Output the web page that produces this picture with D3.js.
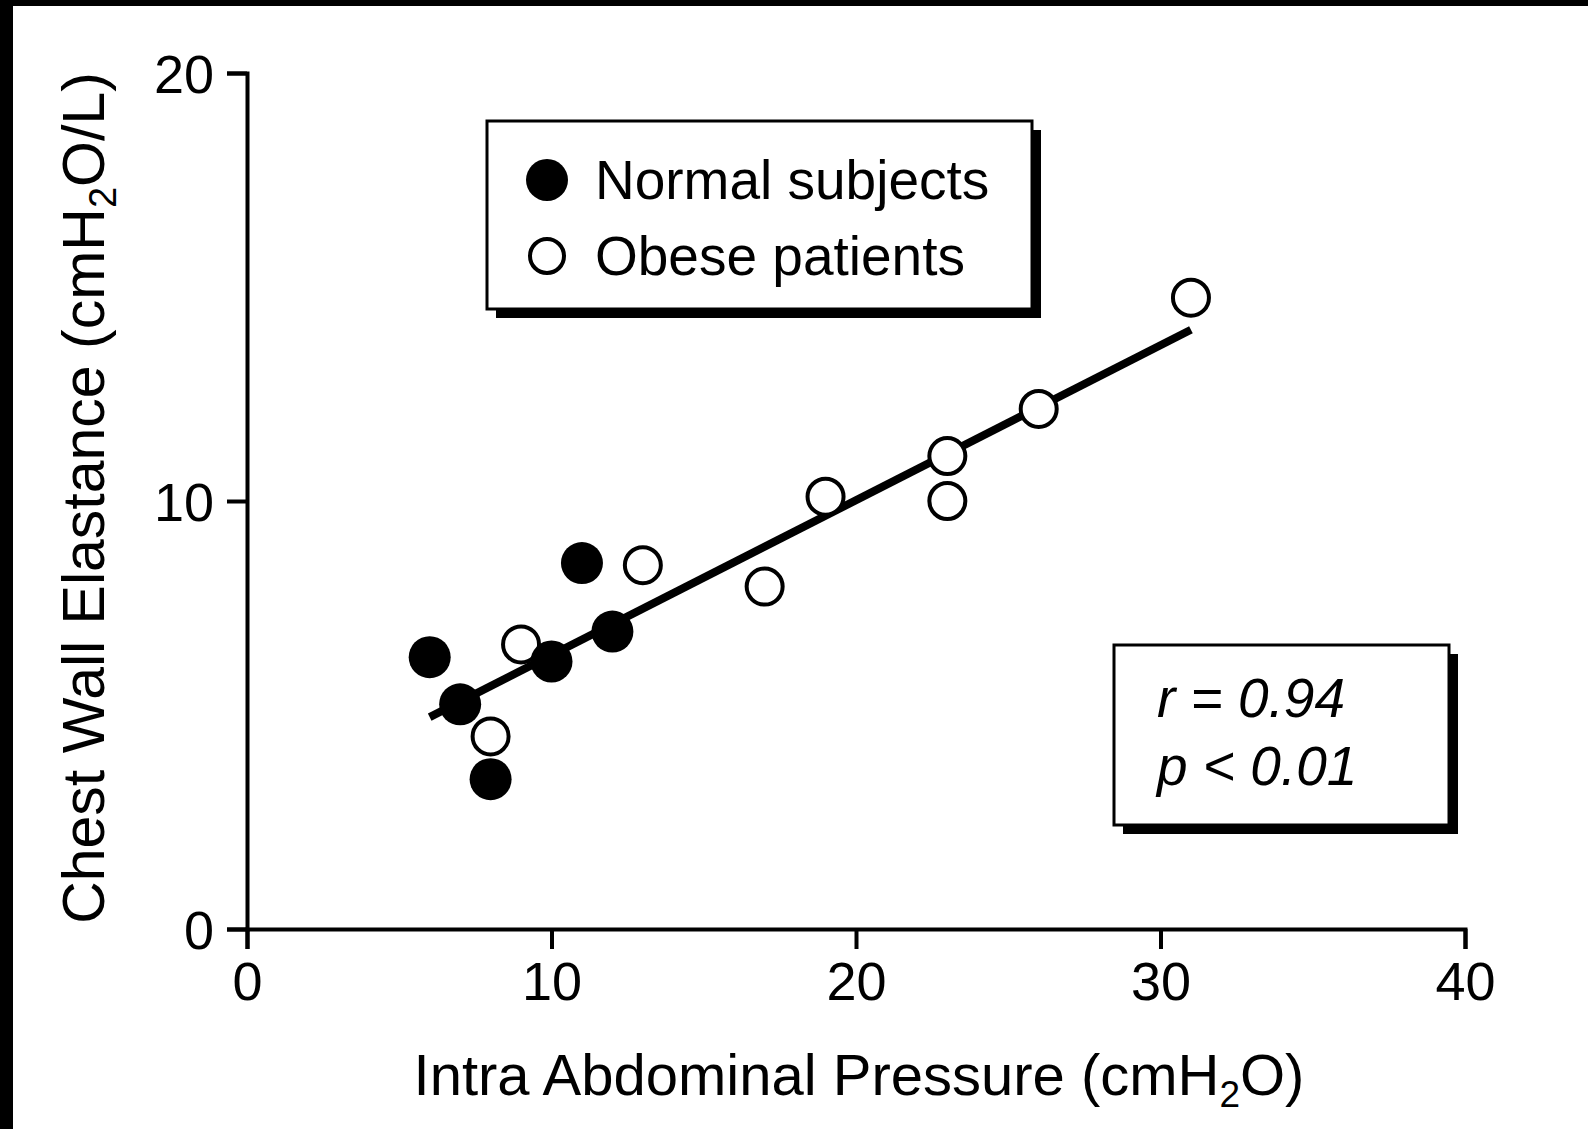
<!DOCTYPE html>
<html>
<head>
<meta charset="utf-8">
<script src="https://cdn.jsdelivr.net/npm/d3@7"></script>
<style>
	body { margin: 0; background: #fff; }
	svg { display: block; font-family: "Liberation Sans", Arial, sans-serif; }
</style>
</head>
<body>
<svg id="chart"></svg>
<script>
const width = 1588;
const height = 1129;

// data
const normalX = [6, 7, 8, 10, 11, 12];
const normalY = [6.35, 5.25, 3.5, 6.25, 8.55, 6.95];
const obeseX = [8, 9, 13, 17, 19, 23, 23, 26, 31];
const obeseY = [4.5, 6.65, 8.5, 8.0, 10.1, 11.05, 10.0, 12.15, 14.75];
const fitX = [6, 31];
const fitY = [4.95, 14.0];
const xTicks = [0, 10, 20, 30, 40];
const yTicks = [0, 10, 20];
const legendLabels = ['Normal subjects', 'Obese patients'];
const statLines = ['r = 0.94', 'p < 0.01'];

const svg = d3.select('#chart')
	.attr('width', width)
	.attr('height', height);

// white page with black scan edges
svg.append('rect').attr('width', width).attr('height', height).attr('fill', '#fff');
svg.append('rect').attr('width', 13).attr('height', height).attr('fill', '#000');
svg.append('rect').attr('width', width).attr('height', 6).attr('fill', '#000');

const x = d3.scaleLinear().domain([0, 40]).range([247, 1465]);
const y = d3.scaleLinear().domain([0, 20]).range([929, 73]);

///////// axes

const xAxis = svg.append('g')
	.attr('transform', `translate(0,${y(0)})`)
	.call(d3.axisBottom(x).tickValues(xTicks).tickSize(20).tickSizeOuter(20).tickPadding(13));
const yAxis = svg.append('g')
	.attr('transform', `translate(${x(0)},0)`)
	.call(d3.axisLeft(y).tickValues(yTicks).tickSize(20).tickSizeOuter(20).tickPadding(13));

for (let ax of [xAxis, yAxis]) {
	ax.select('.domain').attr('stroke', '#000').attr('stroke-width', 4);
	ax.selectAll('.tick line').attr('stroke', '#000').attr('stroke-width', 4);
	ax.selectAll('.tick text')
		.attr('fill', '#000')
		.attr('font-size', 54)
		.attr('font-family', '"Liberation Sans", Arial, sans-serif');
}
yAxis.selectAll('.tick text').attr('dy', '0.36em');

// axis titles, with subscript 2
const xTitle = svg.append('text')
	.attr('x', 859)
	.attr('y', 1095)
	.attr('text-anchor', 'middle')
	.attr('font-size', 58);
xTitle.append('tspan').text('Intra Abdominal Pressure (cmH');
xTitle.append('tspan').attr('font-size', 37).attr('dy', 12).text('2');
xTitle.append('tspan').attr('dy', -12).text('O)');

const yTitle = svg.append('text')
	.attr('transform', 'translate(104,498) rotate(-90)')
	.attr('text-anchor', 'middle')
	.attr('font-size', 59);
yTitle.append('tspan').text('Chest Wall Elastance (cmH');
yTitle.append('tspan').attr('font-size', 38).attr('dy', 12).text('2');
yTitle.append('tspan').attr('dy', -12).text('O/L)');

///////// fit line + points

svg.append('line')
	.attr('x1', x(fitX[0])).attr('y1', y(fitY[0]))
	.attr('x2', x(fitX[1])).attr('y2', y(fitY[1]))
	.attr('stroke', '#000')
	.attr('stroke-width', 8);

svg.append('g')
	.selectAll('circle')
	.data(d3.zip(obeseX, obeseY))
	.join('circle')
	.attr('cx', d => x(d[0]))
	.attr('cy', d => y(d[1]))
	.attr('r', 18)
	.attr('fill', '#fff')
	.attr('stroke', '#000')
	.attr('stroke-width', 4);

svg.append('g')
	.selectAll('circle')
	.data(d3.zip(normalX, normalY))
	.join('circle')
	.attr('cx', d => x(d[0]))
	.attr('cy', d => y(d[1]))
	.attr('r', 21)
	.attr('fill', '#000');

///////// boxes with drop shadow

function shadowBox(x0, y0, w, h) {
	svg.append('rect')
		.attr('x', x0 + 9).attr('y', y0 + 9)
		.attr('width', w).attr('height', h)
		.attr('fill', '#000');
	svg.append('rect')
		.attr('x', x0).attr('y', y0)
		.attr('width', w).attr('height', h)
		.attr('fill', '#fff')
		.attr('stroke', '#000')
		.attr('stroke-width', 3);
}

// legend
shadowBox(487, 121, 545, 188);
const legend = svg.append('g');
legend.append('circle').attr('cx', 547).attr('cy', 180).attr('r', 21).attr('fill', '#000');
legend.append('circle').attr('cx', 547).attr('cy', 256).attr('r', 17)
	.attr('fill', '#fff').attr('stroke', '#000').attr('stroke-width', 4);
legend.selectAll('text')
	.data(legendLabels)
	.join('text')
	.attr('x', 595)
	.attr('y', (d, i) => 199 + i * 76)
	.attr('font-size', 55)
	.text(d => d);

// stats
shadowBox(1114, 645, 335, 180);
svg.append('g')
	.selectAll('text')
	.data(statLines)
	.join('text')
	.attr('x', 1157)
	.attr('y', (d, i) => 717 + i * 68)
	.attr('font-size', 55)
	.attr('font-style', 'italic')
	.text(d => d);
</script>
</body>
</html>
